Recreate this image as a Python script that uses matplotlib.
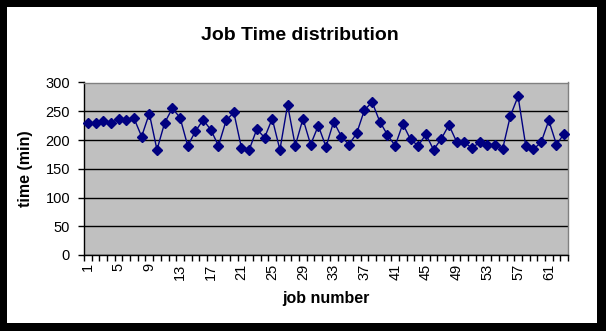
import numpy as np
import matplotlib
matplotlib.use("Agg")
import matplotlib.pyplot as plt
from matplotlib.patches import Rectangle

plt.rcParams.update({
    "font.family": ["Liberation Sans", "DejaVu Sans"],
})

# job times (minutes)
job_times = [
    230, 230, 233, 230, 236, 234, 238, 206, 246, 183,
    230, 255, 239, 190, 215, 235, 218, 190, 234, 248,
    186, 183, 219, 204, 237, 183, 261, 190, 237, 192,
    225, 188, 232, 206, 192, 212, 252, 266, 232, 209,
    190, 228, 201, 190, 210, 183, 202, 226, 197, 196,
    186, 196, 192, 192, 185, 242, 276, 190, 184, 196,
    234, 192, 211,
]
job_numbers = np.arange(1, len(job_times) + 1)
label_jobs = job_numbers[::4]
y_ticks = [0, 50, 100, 150, 200, 250, 300]

W, H = 606, 331
fig = plt.figure(figsize=(W / 100, H / 100), dpi=100, facecolor="black")

# white chart area inside the black frame
fig.patches.append(Rectangle((7 / W, (H - 323) / H), (597 - 7) / W, (323 - 7) / H,
                             transform=fig.transFigure, facecolor="white",
                             edgecolor="none", zorder=-10))

ax = fig.add_axes([84 / W, (H - 255) / H, (568 - 84) / W, (255 - 82.5) / H])
ax.set_facecolor("#C0C0C0")

ax.plot(job_numbers, job_times, color="#000080", lw=1.0, marker="D",
        markersize=5.5, markerfacecolor="#000080", markeredgecolor="#000080",
        zorder=3, clip_on=False)

ax.set_xlim(0.5, len(job_times) + 0.5)
ax.set_ylim(0, 300)
ax.set_yticks(y_ticks)
ax.yaxis.grid(True, color="black", lw=1.0)
ax.set_axisbelow(True)

ax.set_xticks(label_jobs)
ax.set_xticklabels([str(j) for j in label_jobs], rotation=90, fontsize=10.5)
ax.set_xticks(np.arange(0.5, len(job_times) + 1), minor=True)
ax.tick_params(axis="x", which="major", length=0, pad=6)
ax.tick_params(axis="x", which="minor", length=4, width=1, color="black", direction="out")
ax.tick_params(axis="y", length=4, width=1, direction="out", labelsize=10.5, pad=6)

for side in ("top", "right"):
    ax.spines[side].set_color("#808080")
    ax.spines[side].set_linewidth(1.0)
for side in ("left", "bottom"):
    ax.spines[side].set_color("black")
    ax.spines[side].set_linewidth(1.0)

ax.set_xlabel("job number", fontsize=11.5, fontweight="bold", labelpad=8)
ax.set_ylabel("time (min)", fontsize=11.5, fontweight="bold", labelpad=9)
fig.text(300 / W, 1 - 35 / H, "Job Time distribution", fontsize=14,
         fontweight="bold", ha="center", va="center")

fig.savefig("out.png", dpi=100, facecolor=fig.get_facecolor())
